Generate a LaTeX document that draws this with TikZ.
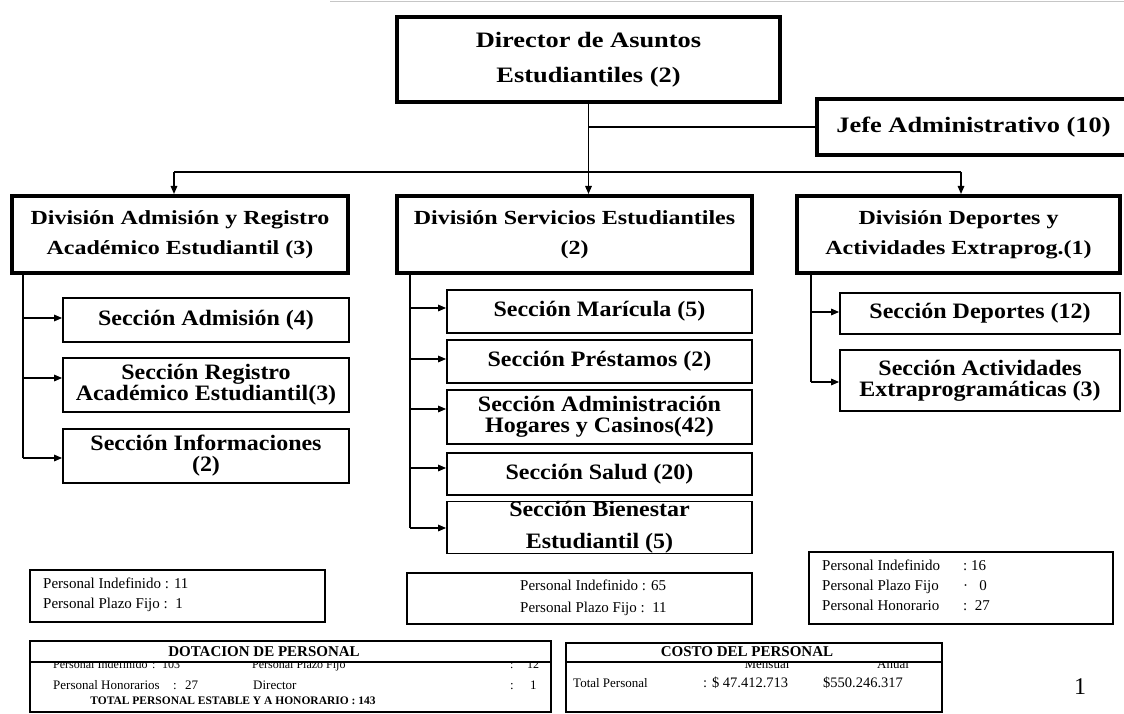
\documentclass[tikz,border=0pt]{standalone}
\usepackage{fontspec}
\setmainfont{Liberation Serif}
\newfontfamily\wideserif[FakeStretch=1.2]{Liberation Serif}
\newfontfamily\secserif[FakeStretch=1.09]{Liberation Serif}
\newcommand\tightls{\lineskiplimit=-50pt\relax}
\usetikzlibrary{arrows.meta}
\begin{document}
\begin{tikzpicture}[x=1pt,y=-1pt,
  conn/.style={line width=1.5pt,black},
  arr/.style={conn,-{Triangle[length=8pt,width=6.5pt]}},
  bigbox/.style={draw,line width=4pt,inner sep=0pt,align=center,font=\wideserif\bfseries\fontsize{20}{30}\selectfont},
  secbox/.style={draw,line width=1.8pt,inner sep=0pt,align=center,font=\secserif\bfseries\fontsize{22}{21}\selectfont\tightls},
  infobox/.style={draw,line width=1.5pt,inner sep=0pt},
  small/.style={inner sep=0pt,anchor=base west,font=\fontsize{15}{18}\selectfont},
  tiny/.style={inner sep=0pt,anchor=base west,font=\fontsize{13}{15}\selectfont},
  costtxt/.style={inner sep=0pt,anchor=base west,font=\fontsize{13}{15}\selectfont},
  costnum/.style={inner sep=0pt,anchor=base west,font=\fontsize{14.5}{16}\selectfont},
  headtxt/.style={inner sep=0pt,font=\bfseries\fontsize{15}{17}\selectfont},
]
\useasboundingbox (0,0) rectangle (1124,714);
% faint scan line at the top
\draw[gray!45,line width=1.5pt] (330,1.5) -- (1124,1.5);

% top level
\node[bigbox,font=\wideserif\bfseries\fontsize{22}{35}\selectfont,minimum width=383pt,minimum height=85pt] (dir) at (588.5,59.5) {Director de Asuntos\\Estudiantiles (2)};
\node[inner sep=0pt,minimum width=307pt,minimum height=56pt,font=\wideserif\bfseries\fontsize{22}{26}\selectfont] (jefe) at (970.5,127) {\hspace*{6pt}Jefe Administrativo (10)};
\draw[line width=4pt,line join=miter] (jefe.north east) -- (jefe.north west) -- (jefe.south west) -- (jefe.south east);

% divisions
\node[bigbox,minimum width=336pt,minimum height=77pt] (d1) at (180,234.5) {División Admisión y Registro\\Académico Estudiantil (3)};
\node[bigbox,minimum width=355pt,minimum height=77pt] (d2) at (574.5,234.5) {División Servicios Estudiantiles\\(2)};
\node[bigbox,minimum width=323pt,minimum height=77pt] (d3) at (958.5,234.5) {División Deportes y\\Actividades Extraprog.(1)};

% connectors top
\draw[arr] (dir.south) -- (dir.south |- d2.north);
\draw[conn] (jefe.west) -- (jefe.west -| dir.south);
\coordinate (bl) at (174,172);
\coordinate (br) at (961,172);
\draw[conn] (bl) -- (br);
\draw[arr] (bl) -- (bl |- d1.north);
\draw[arr] (br) -- (br |- d3.north);

% left sections
\node[secbox,minimum width=286pt,minimum height=44pt] (s1) at (206,320) {Sección Admisión (4)};
\node[secbox,minimum width=286pt,minimum height=54pt] (s2) at (206,385) {Sección Registro\\Académico Estudiantil(3)};
\node[secbox,minimum width=286pt,minimum height=54pt] (s3) at (206,456) {Sección Informaciones\\(2)};
\coordinate (la1) at (23,318);
\coordinate (la2) at (23,378);
\coordinate (la3) at (23,458);
\draw[conn] (d1.south -| la1) -- (la3);
\draw[arr] (la1) -- (la1 -| s1.west);
\draw[arr] (la2) -- (la2 -| s2.west);
\draw[arr] (la3) -- (la3 -| s3.west);

% middle sections
\node[secbox,minimum width=305pt,minimum height=43pt] (m1) at (599.5,311.5) {Sección Marícula (5)};
\node[secbox,minimum width=305pt,minimum height=43pt] (m2) at (599.5,361.5) {Sección Préstamos (2)};
\node[secbox,minimum width=305pt,minimum height=54pt] (m3) at (599.5,417) {Sección Administración\\Hogares y Casinos(42)};
\node[secbox,minimum width=305pt,minimum height=42pt] (m4) at (599.5,474) {Sección Salud (20)};
\node[secbox,font=\secserif\bfseries\fontsize{22}{32}\selectfont,minimum width=305pt,minimum height=51pt] (m5) at (599.5,527.5) {Sección Bienestar\\Estudiantil (5)};
\coordinate (ma1) at (410,308);
\coordinate (ma2) at (410,359);
\coordinate (ma3) at (410,409);
\coordinate (ma4) at (410,468);
\coordinate (ma5) at (410,528);
\draw[conn] (d2.south -| ma1) -- (ma5);
\draw[arr] (ma1) -- (ma1 -| m1.west);
\draw[arr] (ma2) -- (ma2 -| m2.west);
\draw[arr] (ma3) -- (ma3 -| m3.west);
\draw[arr] (ma4) -- (ma4 -| m4.west);
\draw[arr] (ma5) -- (ma5 -| m5.west);

% right sections
\node[secbox,minimum width=280pt,minimum height=41pt] (r1) at (980,313.5) {Sección Deportes (12)};
\node[secbox,minimum width=280pt,minimum height=61pt] (r2) at (980,380.5) {Sección Actividades\\Extraprogramáticas (3)};
\coordinate (ra1) at (811,312);
\coordinate (ra2) at (811,382);
\draw[conn] (d3.south -| ra1) -- (ra2);
\draw[arr] (ra1) -- (ra1 -| r1.west);
\draw[arr] (ra2) -- (ra2 -| r2.west);

% personal boxes
\node[infobox,minimum width=295pt,minimum height=52pt] (p1) at (177.5,596) {};
\node[small] (p1a) at (43,588) {Personal Indefinido : 11};
\node[small] (p1b) at (43,608) {Personal Plazo Fijo :~~1};

\node[infobox,minimum width=345pt,minimum height=51pt] (p2) at (579.5,598.5) {};
\node[small] (p2a) at (520,590) {Personal Indefinido : 65};
\node[small] (p2b) at (520,612) {Personal Plazo Fijo :~~11};

\node[infobox,minimum width=304pt,minimum height=72pt] (p3) at (961,588) {};
\node[small] (p3a) at (822,570) {Personal Indefinido};
\node[small] (p3b) at (822,590) {Personal Plazo Fijo};
\node[small] (p3c) at (822,610) {Personal Honorario};
\node[small] (p3d) at (963,570) {:~16};
\node[small] (p3e) at (963,590) {·~~~0};
\node[small] (p3f) at (963,610) {:~~27};

% dotacion
\node[infobox,line width=1.8pt,minimum width=521pt,minimum height=71pt] (dot) at (290.5,676.5) {};
\coordinate (dsep) at (0,662);
\node[headtxt] (doth) at (264,652) {DOTACION DE PERSONAL};
\begin{scope}
\clip (30,663) rectangle (551,712);
\node[tiny,font=\fontsize{12}{14}\selectfont] (dr1a) at (53,668) {Personal Indefinido};
\node[tiny,font=\fontsize{12}{14}\selectfont] (dr1b) at (152,668) {:};
\node[tiny,font=\fontsize{12}{14}\selectfont] (dr1c) at (162,668) {103};
\node[tiny,font=\fontsize{12}{14}\selectfont] (dr1d) at (252,668) {Personal Plazo Fijo};
\node[tiny,font=\fontsize{12}{14}\selectfont] (dr1e) at (510,668) {:};
\node[tiny,font=\fontsize{12}{14}\selectfont] (dr1f) at (527,668) {12};
\end{scope}
\draw[line width=2.5pt] (dot.west |- dsep) -- (dot.east |- dsep);
\node[tiny] (dr2a) at (53,689) {Personal Honorarios};
\node[tiny] (dr2b) at (173,689) {:};
\node[tiny] (dr2c) at (185,689) {27};
\node[tiny] (dr2d) at (253,689) {Director};
\node[tiny] (dr2e) at (510,689) {:};
\node[tiny] (dr2f) at (530,689) {1};
\node[inner sep=0pt,anchor=base,font=\bfseries\fontsize{11.5}{13}\selectfont] (dtot) at (233,704) {TOTAL PERSONAL ESTABLE Y A HONORARIO : 143};

% costo
\node[infobox,line width=1.8pt,minimum width=376pt,minimum height=69pt] (cost) at (754,677.5) {};
\node[headtxt] (costh) at (747,652) {COSTO DEL PERSONAL};
\begin{scope}
\clip (566,663) rectangle (942,712);
\node[inner sep=0pt,anchor=base,font=\fontsize{13}{15}\selectfont] (cm) at (767,668) {Mensual};
\node[inner sep=0pt,anchor=base,font=\fontsize{13}{15}\selectfont] (ca) at (893,668) {Anual};
\end{scope}
\draw[line width=2.5pt] (cost.west |- dsep) -- (cost.east |- dsep);
\node[costtxt] (ct1) at (573,687) {Total Personal};
\node[costnum] (ct2) at (703,687) {: \$ 47.412.713};
\node[costnum] (ct3) at (823,687) {\$550.246.317};

% page number
\node[inner sep=0pt,font=\fontsize{24}{26}\selectfont] (pg) at (1080,687) {1};
\end{tikzpicture}
\end{document}
